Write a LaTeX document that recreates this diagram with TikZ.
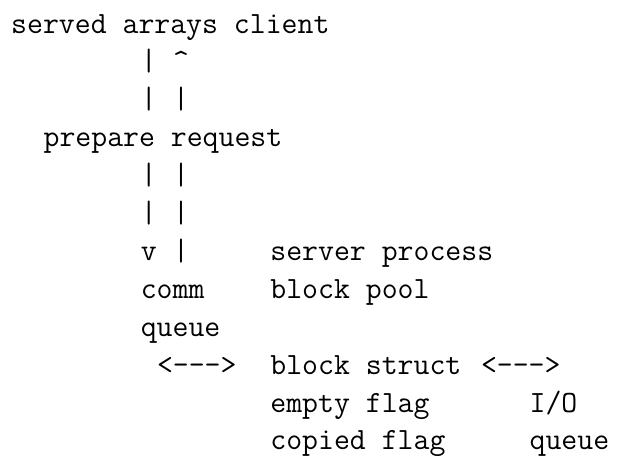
\documentclass[tikz,border=0pt]{standalone}
\begin{document}
\begin{tikzpicture}[x=16.2pt,y=-37.9pt,
  txt/.style={font=\fontsize{30.9}{37}\selectfont\ttfamily, inner sep=0pt, anchor=base west}]
\useasboundingbox (-11pt,33pt) rectangle (609pt,-426pt);
\node[txt] (client) at (0,0) {served arrays client};
\node[txt] (p1a) at (8,1) {|};
\node[txt] (p1b) at (10,1) {\textasciicircum};
\node[txt] (p2a) at (8,2) {|};
\node[txt] (p2b) at (10,2) {|};
\node[txt] (prep) at (2,3) {prepare request};
\node[txt] (p4a) at (8,4) {|};
\node[txt] (p4b) at (10,4) {|};
\node[txt] (p5a) at (8,5) {|};
\node[txt] (p5b) at (10,5) {|};
\node[txt] (p6a) at (8,6) {v};
\node[txt] (p6b) at (10,6) {|};
\node[txt] (server) at (16,6) {server process};
\node[txt] (comm) at (8,7) {comm};
\node[txt] (pool) at (16,7) {block pool};
\node[txt] (queue) at (8,8) {queue};
\node[txt] (arrA) at (9,9) {<-\kern0pt-\kern0pt->};
\node[txt] (struct) at (16,9) {block struct};
\node[txt] (arrB) at (29,9) {<-\kern0pt-\kern0pt->};
\node[txt] (empty) at (16,10) {empty flag};
\node[txt] (io) at (32,10) {I/O};
\node[txt] (copied) at (16,11) {copied flag};
\node[txt] (ioq) at (32,11) {queue};
\end{tikzpicture}
\end{document}
